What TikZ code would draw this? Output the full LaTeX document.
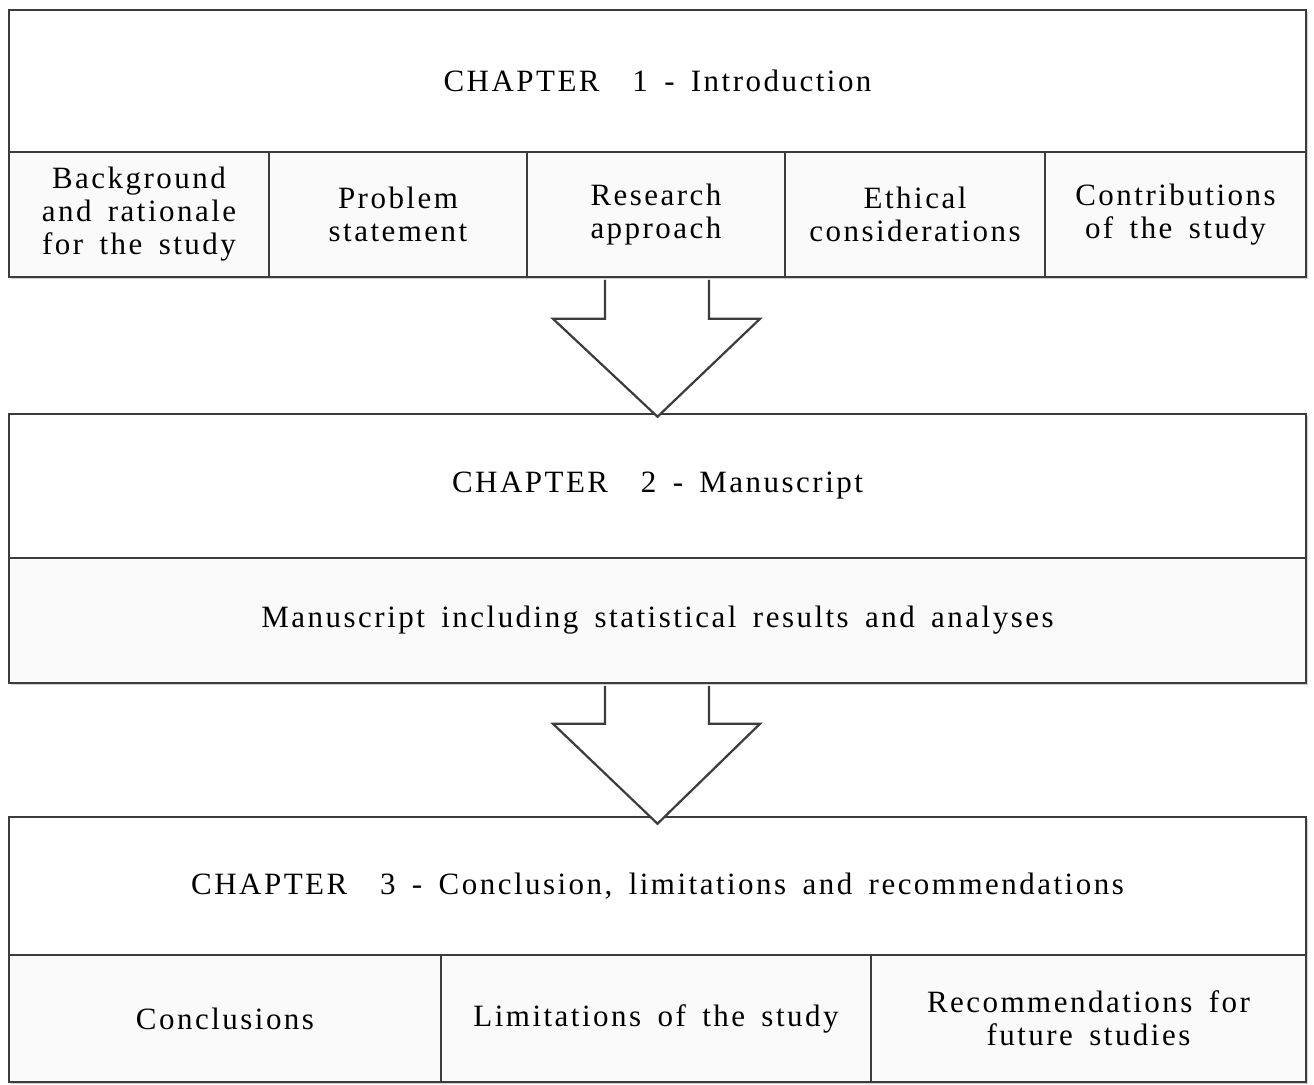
\documentclass[tikz,border=0pt]{standalone}
\usepackage{fontspec}
\setmainfont{Liberation Serif}[LetterSpace=8,WordSpace=1.6]
\usetikzlibrary{calc,shadows}
\definecolor{edge}{HTML}{3C3C3C}
\definecolor{cellfill}{HTML}{FAFAFA}
\begin{document}
\begin{tikzpicture}[x=0.5pt,y=-0.5pt,
  box/.style={draw=edge, line width=1.3pt, inner sep=0pt, align=center,
    font=\fontsize{15.5}{16.5}\selectfont, text=black,
    drop shadow={shadow xshift=0.8pt, shadow yshift=-0.8pt, opacity=0.18, fill=black}},
  titlebox/.style={box, fill=white},
  cellbox/.style={box, fill=cellfill},
  bigarrow/.style={draw=edge, line width=1.1pt, fill=white, line join=miter}]
\useasboundingbox (0,0) rectangle (1314,1084);
\fill[white] (0,0) rectangle (1314,1084);

% Chapter 1
\node[titlebox, minimum width=648.5pt, minimum height=71pt] (t1) at (657.5,81) {CHAPTER\ \ 1 - Introduction};
\node[cellbox, minimum width=130pt, minimum height=62.5pt] (c11) at (139,214.5) {Background\\and rationale\\for the study};
\node[cellbox, minimum width=129pt, minimum height=62.5pt] (c12) at (398,214.5) {Problem\\statement};
\node[cellbox, minimum width=129pt, minimum height=62.5pt] (c13) at (656,214.5) {Research\\approach};
\node[cellbox, minimum width=130pt, minimum height=62.5pt] (c14) at (915,214.5) {Ethical\\considerations};
\node[cellbox, minimum width=130.5pt, minimum height=62.5pt] (c15) at (1175.5,214.5) {Contributions\\of the study};

% Chapter 2
\node[titlebox, minimum width=648.5pt, minimum height=72pt] (t2) at (657.5,486) {CHAPTER\ \ 2 - Manuscript};
\node[cellbox, minimum width=648.5pt, minimum height=62.5pt] (m2) at (657.5,620.5) {Manuscript including statistical results and analyses};

% Chapter 3
\node[titlebox, minimum width=648.5pt, minimum height=69pt] (t3) at (657.5,886) {CHAPTER\ \ 3 - Conclusion, limitations and recommendations};
\node[cellbox, minimum width=216pt, minimum height=63.5pt] (c31) at (225,1018.5) {Conclusions};
\node[cellbox, minimum width=215pt, minimum height=63.5pt] (c32) at (656,1018.5) {Limitations of the study};
\node[cellbox, minimum width=217.5pt, minimum height=63.5pt] (c33) at (1088.5,1018.5) {Recommendations for\\future studies};

% Arrows
\coordinate (a1) at ($(c13.south)+(0,1.5)$);
\coordinate (b1) at ($(t2.north)+(0,4)$);
\filldraw[bigarrow] ($(a1)+(-51,0)$) -- ($(a1)+(-51,39)$) -- ($(a1)+(-103,39)$) -- (b1) -- ($(a1)+(104,39)$) -- ($(a1)+(53,39)$) -- ($(a1)+(53,0)$);

\coordinate (a2) at ($(m2.south)+(-1.5,1.5)$);
\coordinate (b2) at ($(t3.north)+(0,8)$);
\filldraw[bigarrow] ($(a2)+(-51,0)$) -- ($(a2)+(-51,38)$) -- ($(a2)+(-103,38)$) -- (b2) -- ($(a2)+(104,38)$) -- ($(a2)+(53,38)$) -- ($(a2)+(53,0)$);
\end{tikzpicture}
\end{document}
